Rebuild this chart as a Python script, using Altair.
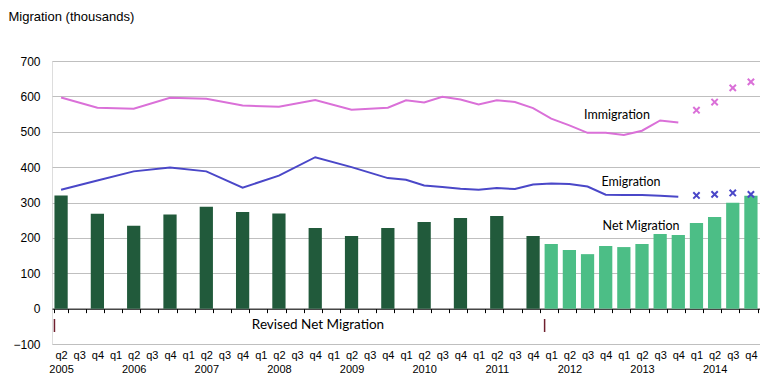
import altair as alt
import pandas as pd

# Quarter categories 2005 q2 .. 2014 q4
quarters = ["2005 q2", "2005 q3", "2005 q4"] + [f"{y} q{q}" for y in range(2006, 2015) for q in range(1, 5)]

# Revised net migration (years ending June / December)
revised_q = ["2005 q2", "2005 q4", "2006 q2", "2006 q4", "2007 q2", "2007 q4", "2008 q2",
             "2008 q4", "2009 q2", "2009 q4", "2010 q2", "2010 q4", "2011 q2", "2011 q4"]
revised_v = [320, 268, 234, 266, 288, 273, 269, 228, 205, 228, 245, 256, 262, 205]

# Net migration (quarterly)
net_q = ["2012 q1", "2012 q2", "2012 q3", "2012 q4", "2013 q1", "2013 q2", "2013 q3", "2013 q4",
         "2014 q1", "2014 q2", "2014 q3", "2014 q4"]
net_v = [183, 166, 154, 177, 174, 183, 211, 208, 242, 259, 299, 319]

# Immigration / emigration lines
line_q = ["2005 q2", "2005 q4", "2006 q2", "2006 q4", "2007 q2", "2007 q4", "2008 q2", "2008 q4",
          "2009 q2", "2009 q4", "2010 q1", "2010 q2", "2010 q3", "2010 q4", "2011 q1", "2011 q2",
          "2011 q3", "2011 q4", "2012 q1", "2012 q2", "2012 q3", "2012 q4", "2013 q1", "2013 q2",
          "2013 q3", "2013 q4"]
immig_v = [597, 568, 565, 596, 593, 574, 571, 590, 562, 568, 589, 583, 599, 591, 577, 589,
           584, 567, 537, 518, 497, 497, 491, 503, 532, 526]
emig_v = [336, 362, 388, 399, 388, 342, 376, 428, 400, 369, 364, 348, 344, 339, 336, 341,
          338, 351, 354, 352, 345, 322, 321, 321, 319, 316]

# Provisional estimates (crosses)
prov_q = ["2014 q1", "2014 q2", "2014 q3", "2014 q4"]
prov_immig = [561, 584, 624, 641]
prov_emig = [320, 323, 327, 323]

# Marker bars under the axis
sep_q = ["2005 q2", "2012 q1"]

y_ticks = [-100, 0, 100, 200, 300, 400, 500, 600, 700]

IMM = "#DA70D8"
EMI = "#4A47C8"
DARK = "#215A3B"
LIGHT = "#4CBE86"
SEP = "#6E1F2E"

W, H = 708, 283

x_scale = alt.Scale(domain=quarters, paddingInner=0.27, paddingOuter=0.135)
y_scale = alt.Scale(domain=[-100, 700], nice=False, zero=False)

label_expr = ("split(datum.value,' ')[1] == 'q2' ? [split(datum.value,' ')[1], split(datum.value,' ')[0]]"
              " : split(datum.value,' ')[1]")

x_axis = alt.Axis(title=None, orient="bottom", offset=-H / 8, domainColor="black", domainWidth=1,
                  ticks=True, tickColor="black", tickSize=4, tickBand="extent",
                  labelExpr=label_expr, labelAngle=0, labelFont="Liberation Sans", labelFontSize=11,
                  labelColor="black", labelPadding=37, labelBaseline="top", labelLineHeight=14,
                  grid=False)
y_axis = alt.Axis(values=y_ticks, title="Migration (thousands)", titleAngle=0, titleAlign="left",
                  titleBaseline="middle", titleX=-44, titleY=-45, titleFont="Liberation Sans",
                  titleFontSize=13, titleFontWeight="normal", titleColor="black",
                  labelFont="Liberation Sans", labelFontSize=12, labelColor="black", labelPadding=12,
                  domain=False, ticks=False, grid=True, gridColor="#BFBFBF", gridWidth=1)

revised_df = pd.DataFrame({"quarter": revised_q, "value": revised_v})
net_df = pd.DataFrame({"quarter": net_q, "value": net_v})
imm_df = pd.DataFrame({"quarter": line_q, "value": immig_v})
emi_df = pd.DataFrame({"quarter": line_q, "value": emig_v})
pimm_df = pd.DataFrame({"quarter": prov_q, "value": prov_immig})
pemi_df = pd.DataFrame({"quarter": prov_q, "value": prov_emig})
sep_df = pd.DataFrame({"quarter": sep_q})

X = alt.X("quarter:N", scale=x_scale, sort=quarters, axis=x_axis)
Y = alt.Y("value:Q", scale=y_scale, axis=y_axis)

bars_rev = alt.Chart(revised_df).mark_bar(color=DARK).encode(x=X, y=Y)
bars_net = alt.Chart(net_df).mark_bar(color=LIGHT).encode(x=X, y=Y)
imm_line = alt.Chart(imm_df).mark_line(color=IMM, strokeWidth=2).encode(x=X, y=Y)
emi_line = alt.Chart(emi_df).mark_line(color=EMI, strokeWidth=2).encode(x=X, y=Y)

cross = "M-1,-1L1,1M-1,1L1,-1"
imm_pts = alt.Chart(pimm_df).mark_point(shape=cross, filled=False, color=IMM, strokeWidth=2,
                                        size=40, opacity=1).encode(x=X, y=Y)
emi_pts = alt.Chart(pemi_df).mark_point(shape=cross, filled=False, color=EMI, strokeWidth=2,
                                        size=40, opacity=1).encode(x=X, y=Y)

seps = alt.Chart(sep_df).mark_rule(color=SEP, strokeWidth=1.5).encode(
    x=alt.X("quarter:N", scale=x_scale, sort=quarters, bandPosition=0),
    y=alt.value(258), y2=alt.value(271))

labels_text = ["Immigration", "Emigration", "Net Migration", "Revised Net Migration"]
labels_x = [565, 579, 589, 266]
labels_y = [54, 121, 165, 264]
labels_size = [12.5, 12.5, 12.5, 13.5]
ann_layers = []
for t, lx, ly, fs in zip(labels_text, labels_x, labels_y, labels_size):
    ann_layers.append(
        alt.Chart(pd.DataFrame({"t": [t]})).mark_text(
            font="Lato", fontSize=fs, color="black", align="center", baseline="middle"
        ).encode(text="t:N", x=alt.value(lx), y=alt.value(ly))
    )

chart = alt.layer(bars_rev, bars_net, imm_line, emi_line, imm_pts, emi_pts, seps, *ann_layers).properties(
    width=W, height=H, padding={"left": 0, "top": 2, "right": 0, "bottom": 0}
).configure_view(stroke=None).configure(background="white")

chart.save("out.html", embed_options={"renderer": "svg", "actions": False})
